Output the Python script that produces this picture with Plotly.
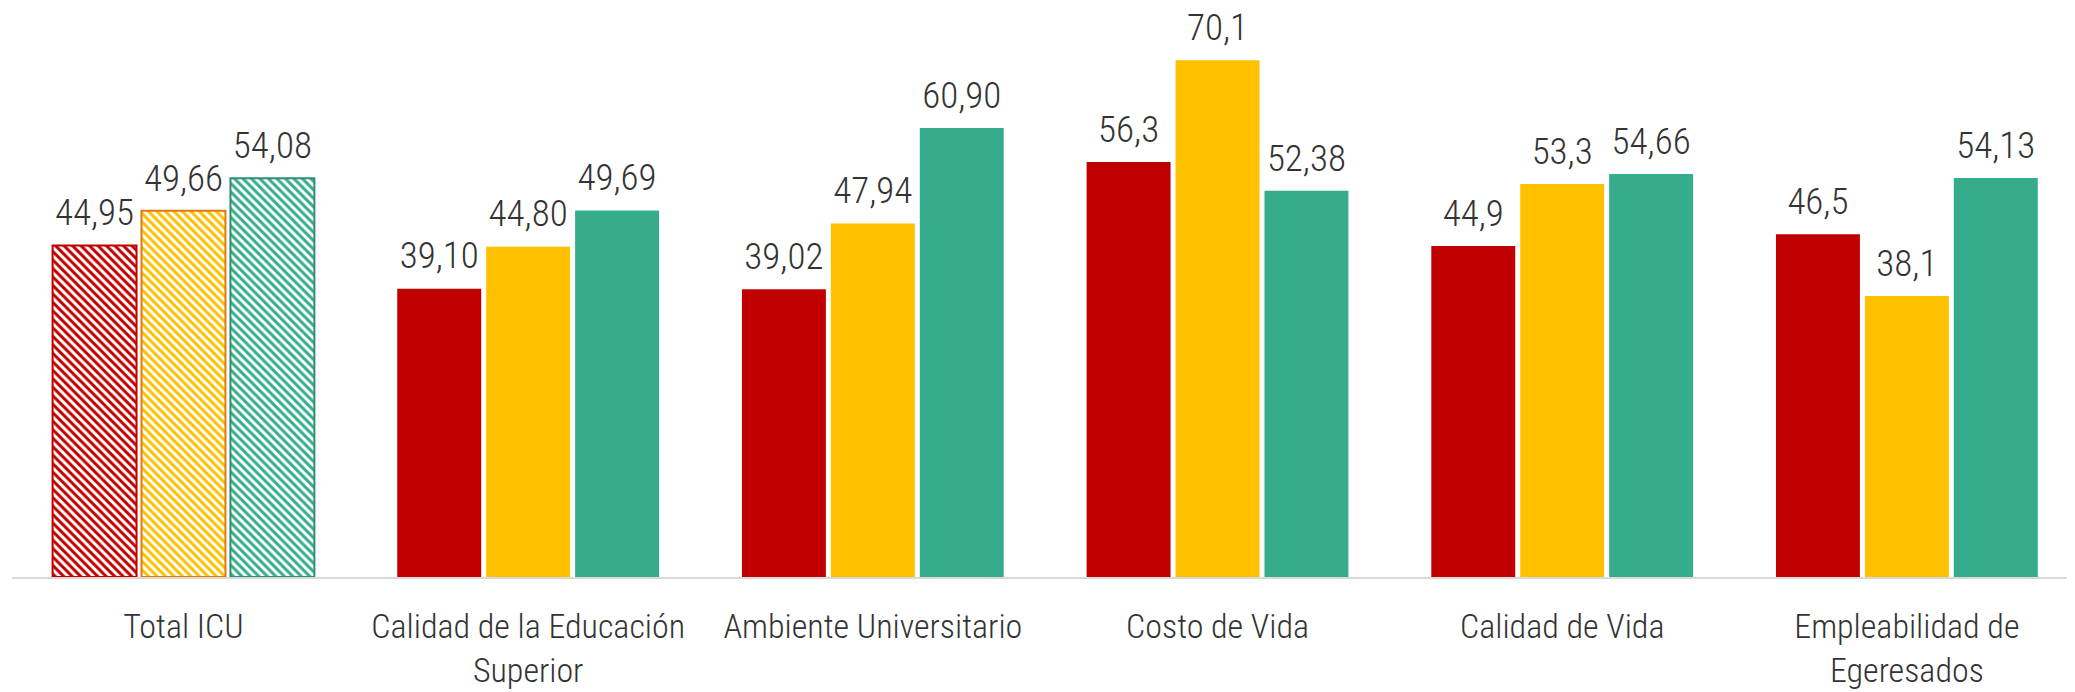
import plotly.graph_objects as go

categories = ["Total ICU", "Calidad de la Educación<br>Superior", "Ambiente Universitario",
              "Costo de Vida", "Calidad de Vida", "Empleabilidad de<br>Egeresados"]
series_red = [44.95, 39.10, 39.02, 56.3, 44.9, 46.5]
series_yellow = [49.66, 44.80, 47.94, 70.1, 53.3, 38.1]
series_green = [54.08, 49.69, 60.90, 52.38, 54.66, 54.13]
decimals_red = [2, 2, 2, 1, 1, 1]
decimals_yellow = [2, 2, 2, 1, 1, 1]
decimals_green = [2, 2, 2, 2, 2, 2]

colors = ["#C00000", "#FFC000", "#35AD8D"]
borders = ["#C00000", "#E07A10", "#2E8F73"]

FONT = "Roboto Condensed, Roboto, sans-serif"


def fmt(vals, decs):
    return [f"{v:.{d}f}".replace(".", ",") for v, d in zip(vals, decs)]


series = [
    (series_red, decimals_red, colors[0], borders[0]),
    (series_yellow, decimals_yellow, colors[1], borders[1]),
    (series_green, decimals_green, colors[2], borders[2]),
]

fig = go.Figure()
for vals, decs, col, bcol in series:
    n = len(vals)
    fig.add_trace(go.Bar(
        x=list(range(n)), y=vals,
        marker=dict(
            color=col,
            line=dict(color=[bcol] + [col] * (n - 1), width=[2] + [0] * (n - 1)),
            pattern=dict(shape=["\\"] + [""] * (n - 1), fgcolor=col, bgcolor="white",
                         fillmode="replace", size=6, solidity=0.5),
        ),
        showlegend=False,
        hoverinfo="skip",
    ))

# value labels, grouped like the bars
for vals, decs, col, bcol in series:
    n = len(vals)
    fig.add_trace(go.Scatter(
        x=list(range(n)), y=vals, mode="markers+text",
        text=fmt(vals, decs), textposition="top center",
        textfont=dict(family=FONT, size=37, color="#333333", weight=300),
        marker=dict(size=16, opacity=0, color=col),
        cliponaxis=False, showlegend=False, hoverinfo="skip",
    ))

fig.update_layout(
    width=2075, height=692,
    margin=dict(l=4, r=0, t=16, b=123),
    paper_bgcolor="white", plot_bgcolor="white",
    barmode="group", bargap=0.226, bargroupgap=0.056,
    scattermode="group", scattergap=0.226,
    font=dict(family=FONT, color="#333333"),
    xaxis=dict(
        range=[-0.4975, 5.511],
        tickmode="array", tickvals=list(range(len(categories))), ticktext=categories,
        tickfont=dict(family=FONT, size=34, color="#333333", weight=300),
        showgrid=False, zeroline=False,
        showline=True, linecolor="#D9D9D9", linewidth=2,
        ticks="", ticklabelstandoff=18,
    ),
    yaxis=dict(range=[0, 75], visible=False, showgrid=False, zeroline=False),
)

fig.write_html("out.html")
